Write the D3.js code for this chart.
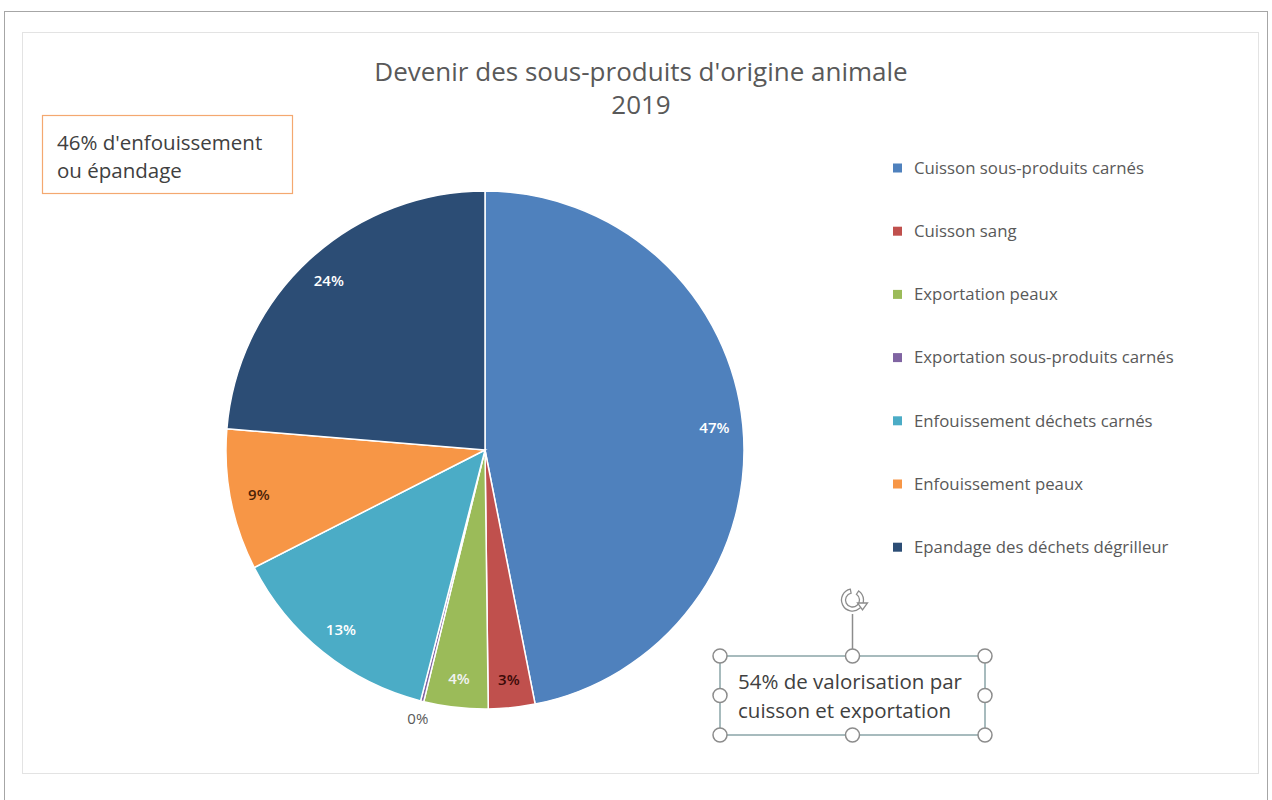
<!DOCTYPE html>
<html>
<head>
  <meta charset="UTF-8">
  <title>Devenir des sous-produits d'origine animale 2019</title>
  <style>
    body { margin: 0; background: #fff; }
    svg { display: block; }
  </style>
</head>
<body>
  <svg width="1272" height="800"></svg>

  <script src="https://d3js.org/d3.v7.min.js"></script>
  <script>
    // Data (shares in %)
    const categories = [
      "Cuisson sous-produits carnés",
      "Cuisson sang",
      "Exportation peaux",
      "Exportation sous-produits carnés",
      "Enfouissement déchets carnés",
      "Enfouissement peaux",
      "Epandage des déchets dégrilleur"
    ];
    const values = [46.9, 2.9, 4.0, 0.2, 13.5, 8.8, 23.7];
    const percentLabels = ["47%", "3%", "4%", "0%", "13%", "9%", "24%"];
    const colors = ["#4f81bd", "#c0504d", "#9bbb59", "#8064a2", "#4bacc6", "#f79646", "#2c4d75"];
    const labelColors = ["#ffffff", "#3b0a08", "#f2f2f2", "#595959", "#ffffff", "#4a2308", "#ffffff"];
    const titleLines = ["Devenir des sous-produits d'origine animale", "2019"];
    const noteLeft = ["46% d'enfouissement", "ou épandage"];
    const noteRight = ["54% de valorisation par", "cuisson et exportation"];

    const font = "'Open Sans', 'DejaVu Sans', sans-serif";
    const svg = d3.select("svg");

    // outer frame + chart area
    svg.append("rect")
      .attr("x", 4.5).attr("y", 11.5)
      .attr("width", 1263).attr("height", 800)
      .attr("fill", "#fff").attr("stroke", "#a6a6a6");
    svg.append("rect")
      .attr("x", 22.5).attr("y", 32.5)
      .attr("width", 1236).attr("height", 741)
      .attr("fill", "#fff").attr("stroke", "#e3e3e3");

    // title
    svg.append("g").selectAll("text")
      .data(titleLines)
      .join("text")
      .attr("x", 641)
      .attr("y", (d, i) => 81 + i * 33)
      .attr("text-anchor", "middle")
      .attr("font-family", font)
      .attr("font-size", "26px")
      .attr("fill", "#595959")
      .text(d => d);

    // pie
    const cx = 485, cy = 450, radius = 259;
    const pie = d3.pie().sort(null).value(d => d);
    const arcs = pie(values);
    const arc = d3.arc().innerRadius(0).outerRadius(radius);
    const labelArc = d3.arc().innerRadius(radius * 0.89).outerRadius(radius * 0.89);
    const outerArc = d3.arc().innerRadius(radius + 18).outerRadius(radius + 18);

    const g = svg.append("g").attr("transform", `translate(${cx},${cy})`);

    g.selectAll("path")
      .data(arcs)
      .join("path")
      .attr("d", arc)
      .attr("fill", (d, i) => colors[i])
      .attr("stroke", "#ffffff")
      .attr("stroke-width", 1.5);

    g.selectAll("text.lbl")
      .data(arcs)
      .join("text")
      .attr("class", "lbl")
      .attr("transform", (d, i) => {
        const p = (values[i] < 1 ? outerArc : labelArc).centroid(d);
        return `translate(${p[0]},${p[1]})`;
      })
      .attr("dy", "0.35em")
      .attr("text-anchor", "middle")
      .attr("font-family", font)
      .attr("font-size", "15px")
      .attr("font-weight", (d, i) => values[i] < 1 ? 400 : 600)
      .attr("fill", (d, i) => labelColors[i])
      .text((d, i) => percentLabels[i]);

    // legend
    const legend = svg.append("g").attr("transform", "translate(900,168)");
    const rows = legend.selectAll("g")
      .data(categories)
      .join("g")
      .attr("transform", (d, i) => `translate(0,${i * 63.2})`);
    rows.append("rect")
      .attr("x", -7).attr("y", -4.5)
      .attr("width", 9).attr("height", 9)
      .attr("fill", (d, i) => colors[i]);
    rows.append("text")
      .attr("x", 14)
      .attr("dy", "0.35em")
      .attr("font-family", font)
      .attr("font-size", "16.8px")
      .attr("fill", "#595959")
      .text(d => d);

    // left note box
    svg.append("rect")
      .attr("x", 42.5).attr("y", 115.5)
      .attr("width", 250).attr("height", 78)
      .attr("fill", "#fff")
      .attr("stroke", "#f4a870").attr("stroke-width", 1.2);
    svg.append("g").selectAll("text")
      .data(noteLeft)
      .join("text")
      .attr("x", 57)
      .attr("y", (d, i) => 150 + i * 28)
      .attr("font-family", font)
      .attr("font-size", "20.5px")
      .attr("fill", "#404040")
      .text(d => d);

    // right note box (selected text box with handles)
    const bx = 720, by = 656, bw = 265, bh = 79;
    const box = svg.append("g");
    box.append("line")
      .attr("x1", bx + bw / 2).attr("x2", bx + bw / 2)
      .attr("y1", by).attr("y2", 614)
      .attr("stroke", "#8c8c8c").attr("stroke-width", 1.5);
    box.append("rect")
      .attr("x", bx).attr("y", by)
      .attr("width", bw).attr("height", bh)
      .attr("fill", "#fff")
      .attr("stroke", "#8aa5a8").attr("stroke-width", 1.5);
    box.selectAll("text")
      .data(noteRight)
      .join("text")
      .attr("x", 738)
      .attr("y", (d, i) => 689 + i * 29)
      .attr("font-family", font)
      .attr("font-size", "20.5px")
      .attr("fill", "#404040")
      .text(d => d);
    const handles = [
      [0, 0], [0.5, 0], [1, 0],
      [0, 0.5], [1, 0.5],
      [0, 1], [0.5, 1], [1, 1]
    ];
    box.selectAll("circle.h")
      .data(handles)
      .join("circle")
      .attr("class", "h")
      .attr("cx", d => bx + d[0] * bw)
      .attr("cy", d => by + d[1] * bh)
      .attr("r", 7)
      .attr("fill", "#fff")
      .attr("stroke", "#8c8c8c").attr("stroke-width", 1.5);

    // rotate handle icon
    const rot = box.append("g").attr("transform", `translate(${bx + bw / 2},600)`);
    rot.append("path")
      .attr("d", d3.arc().innerRadius(7).outerRadius(11).startAngle(0.6).endAngle(2 * Math.PI - 0.2)())
      .attr("fill", "#fff").attr("stroke", "#8c8c8c").attr("stroke-width", 1.3);
    rot.append("path")
      .attr("d", "M5,3 L15,3 L10,10 Z")
      .attr("fill", "#fff").attr("stroke", "#8c8c8c").attr("stroke-width", 1.3);
  </script>
</body>
</html>
